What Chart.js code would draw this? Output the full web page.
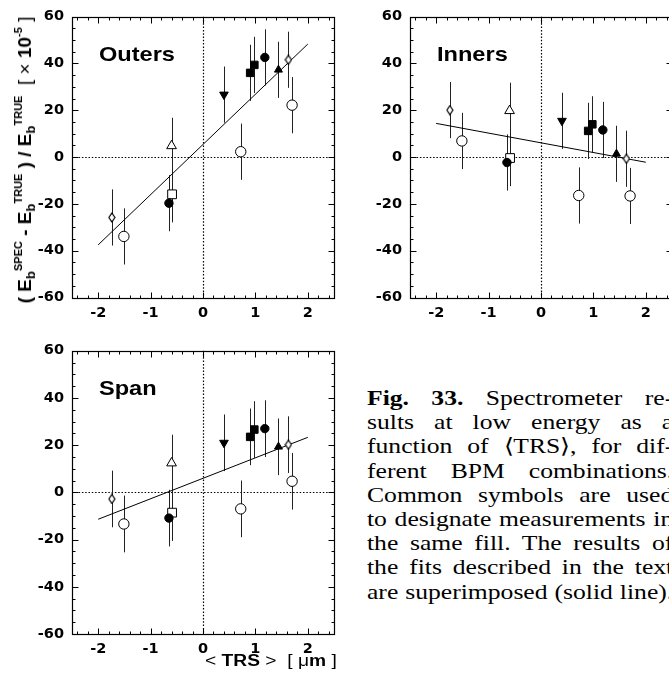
<!DOCTYPE html>
<html>
<head>
<meta charset="utf-8">
<script src="https://cdn.jsdelivr.net/npm/chart.js@4.4.0/dist/chart.umd.min.js"></script>
<style>
  html, body { margin: 0; padding: 0; background: #fff; overflow: hidden; width: 669px; height: 681px; }
  canvas { position: absolute; }
  #ytitle {
    position: absolute; left: 25px; top: 160px; white-space: nowrap;
    transform: translate(-50%, -50%) rotate(-90deg);
    font-family: "Liberation Sans", Arial, sans-serif; font-size: 19px; color: #000;
  }
  #ytitle b { font-weight: bold; }
  #ytitle sub, #ytitle sup { font-size: 11px; font-weight: bold; }
  #ytitle sub { font-size: 13px; vertical-align: -4px; }
  #ytitle sup { vertical-align: 9px; }
  #xtitle {
    position: absolute; right: 332px; top: 652px; white-space: nowrap;
    font-family: "Liberation Sans", Arial, sans-serif; font-size: 16px; color: #000;
    transform: scaleX(1.2); transform-origin: 100% 50%;
  }
  #caption {
    position: absolute; left: 367px; top: 386px; width: 251px;
    font-family: "Liberation Serif", "Times New Roman", serif; font-size: 21px; color: #000;
    transform: scaleX(1.22); transform-origin: 0 0;
  }
  #caption div { height: 24.2px; line-height: 24.2px; white-space: nowrap; text-align: justify; text-align-last: justify; }
</style>
</head>
<body>
<canvas id="outers" width="345" height="330" style="left:0;top:0"></canvas>
<canvas id="inners" width="345" height="330" style="left:337.5px;top:0"></canvas>
<canvas id="span" width="345" height="335" style="left:0;top:334px"></canvas>

<div id="ytitle"><b>( E<sub>b</sub><sup>SPEC</sup> - E<sub>b</sub><sup>TRUE</sup> ) / E<sub>b</sub><sup>TRUE</sup></b>&nbsp; [ &times; <b>10<sup>-5</sup></b> ]</div>
<div id="xtitle">&lt; <b>TRS</b> &gt;&nbsp; [ &mu;<b>m</b> ]</div>

<div id="caption">
  <div><b>Fig. 33.</b> Spectrometer re-</div>
  <div>sults at low energy as a</div>
  <div>function of ⟨TRS⟩, for dif-</div>
  <div>ferent BPM combinations.</div>
  <div>Common symbols are used</div>
  <div>to designate measurements in</div>
  <div>the same fill. The results of</div>
  <div>the fits described in the text</div>
  <div>are superimposed (solid line).</div>
</div>

<script>
// <TRS> of each measurement (same for every BPM combination)
const trs = [-1.74, -1.51, -0.60, -0.59, -0.65, 0.40, 0.72, 0.90, 0.98, 1.18, 1.44, 1.63, 1.70];
// symbol of each measurement, and whether it is filled
const symbols = ['diamond', 'circle', 'triangle', 'rect', 'circle', 'invtriangle', 'circle', 'rect', 'rect', 'circle', 'triangle', 'diamond', 'circle'];
const filled = [false, false, false, false, true, true, false, true, true, true, true, false, false];

// (E_spec - E_true)/E_true  [x 1e-5]
const outersVal = [-25.8, -33.9, 4.8, -15.9, -19.7, 26.7, 2.3, 36.0, 39.4, 42.6, 37.3, 41.6, 22.2];
const innersVal = [20.1, 6.9, 19.8, -0.4, -2.3, 15.5, -16.4, 11.2, 14.0, 11.6, 1.4, -0.7, -16.6];
const spanVal = [-2.8, -13.4, 12.4, -8.6, -10.9, 21.0, -7.0, 23.5, 26.6, 27.0, 19.3, 20.2, 4.7];
const outersErr = [12, 12, 12, 12, 12, 12, 12, 12, 12, 12, 12, 12, 12];
const innersErr = [12, 12, 12, 12, 12, 12, 12, 12, 12, 12, 12, 12, 12];
const spanErr = [12, 12, 12, 12, 12, 12, 12, 12, 12, 12, 12, 12, 12];

// fitted lines, value at the ends
const fitX = [-2, 2];
const outersFit = [-37.5, 48.3];
const innersFit = [14.4, -2.2];
const spanFit = [-11.4, 23.3];

const xTicks = [-2, -1, 0, 1, 2];
const yTicks = [-60, -40, -20, 0, 20, 40, 60];

// narrow open diamond marker
const diamond = document.createElement('canvas');
diamond.width = 8; diamond.height = 11;
(function () {
    const c = diamond.getContext('2d');
    c.beginPath();
    c.moveTo(4, 1); c.lineTo(7, 5.5); c.lineTo(4, 10); c.lineTo(1, 5.5); c.closePath();
    c.fillStyle = '#fff'; c.fill();
    c.strokeStyle = '#000'; c.lineWidth = 1.2; c.stroke();
})();

function markerStyle(i) {
    const s = symbols[i];
    if (s === 'diamond') return diamond;
    if (s === 'invtriangle') return 'triangle';
    return s;
}
function markerRadius(i) {
    const s = symbols[i], f = filled[i];
    if (s === 'circle') return f ? 4.2 : 5.2;
    if (s === 'rect') return f ? 5.3 : 6.2;
    if (s === 'triangle') return f ? 4.6 : 5.6;
    if (s === 'invtriangle') return 5;
    return 5;
}

const framePlugin = {
    id: 'frame',
    beforeDatasetsDraw(chart) {
        const { ctx, chartArea: a, scales: { x, y } } = chart;
        const opts = chart.options.plugins.frame;
        ctx.save();
        // dotted zero lines
        ctx.strokeStyle = '#000';
        ctx.lineWidth = 1.2;
        ctx.setLineDash([1.5, 1.8]);
        const x0 = Math.round(x.getPixelForValue(0)) + 0.5;
        const y0 = Math.round(y.getPixelForValue(0)) + 0.5;
        ctx.beginPath();
        ctx.moveTo(x0, a.top); ctx.lineTo(x0, a.bottom);
        ctx.moveTo(a.left, y0); ctx.lineTo(a.right, y0);
        ctx.stroke();
        ctx.setLineDash([]);
        // error bars
        ctx.strokeStyle = '#222';
        ctx.lineWidth = 1;
        chart.data.datasets[0].data.forEach((p, i) => {
            const px = Math.round(x.getPixelForValue(p.x)) + 0.5;
            ctx.beginPath();
            ctx.moveTo(px, y.getPixelForValue(p.y + opts.err[i]));
            ctx.lineTo(px, y.getPixelForValue(p.y - opts.err[i]));
            ctx.stroke();
        });
        ctx.restore();
    },
    afterDraw(chart) {
        const { ctx, chartArea: a, scales: { x, y } } = chart;
        const opts = chart.options.plugins.frame;
        const L = Math.round(a.left) + 0.5, R = Math.round(a.right) + 0.5;
        const T = Math.round(a.top) + 0.5, B = Math.round(a.bottom) + 0.5;
        ctx.save();
        ctx.strokeStyle = '#000';
        ctx.lineWidth = 1.2;
        ctx.strokeRect(L, T, R - L, B - T);
        ctx.lineWidth = 1;
        ctx.beginPath();
        for (let i = -12; i <= 12; i++) {
            const px = Math.round(x.getPixelForValue(i / 5)) + 0.5;
            const len = i % 5 === 0 ? 6 : 3;
            ctx.moveTo(px, B); ctx.lineTo(px, B - len);
            ctx.moveTo(px, T); ctx.lineTo(px, T + len);
        }
        for (let i = -11; i <= 11; i++) {
            const py = Math.round(y.getPixelForValue(i * 5)) + 0.5;
            const len = (i * 5) % 20 === 0 ? 6 : 3;
            ctx.moveTo(L, py); ctx.lineTo(L + len, py);
            ctx.moveTo(R, py); ctx.lineTo(R - len, py);
        }
        ctx.stroke();
        // panel name, slightly widened like the original print
        ctx.fillStyle = '#000';
        ctx.font = 'bold 20.5px "Liberation Sans"';
        ctx.textBaseline = 'alphabetic';
        ctx.translate(a.left + 27, a.top + 44);
        ctx.scale(1.15, 1);
        ctx.fillText(opts.label, 0, 0);
        ctx.restore();
    }
};

function makePanel(id, label, vals, errs, fit, bottomPad) {
    const points = trs.map((t, i) => ({ x: t, y: vals[i] }));
    new Chart(document.getElementById(id), {
        type: 'scatter',
        data: {
            datasets: [{
                data: points,
                pointStyle: trs.map((t, i) => markerStyle(i)),
                pointRadius: trs.map((t, i) => markerRadius(i)),
                pointRotation: trs.map((t, i) => symbols[i] === 'invtriangle' ? 180 : 0),
                pointBackgroundColor: trs.map((t, i) => filled[i] ? '#000' : '#fff'),
                pointBorderColor: '#000',
                pointBorderWidth: 1,
                pointHoverRadius: trs.map((t, i) => markerRadius(i))
            }, {
                data: fitX.map((fx, i) => ({ x: fx, y: fit[i] })),
                showLine: true,
                borderColor: '#000',
                borderWidth: 1,
                pointRadius: 0
            }]
        },
        options: {
            responsive: false,
            animation: false,
            layout: { padding: { left: 32, right: 11, top: 14, bottom: bottomPad } },
            plugins: {
                legend: { display: false },
                tooltip: { enabled: false },
                frame: { label: label, err: errs }
            },
            scales: {
                x: {
                    type: 'linear', min: -2.5, max: 2.5,
                    afterBuildTicks: s => { s.ticks = xTicks.map(v => ({ value: v })); },
                    afterFit: s => { s.height = 30; },
                    grid: { display: false, drawTicks: false },
                    border: { display: false },
                    ticks: { color: '#000', padding: 7, maxRotation: 0, font: { family: 'DejaVu Sans', size: 14.5, weight: 'bold' }, callback: v => String(v) }
                },
                y: {
                    type: 'linear', min: -60, max: 60,
                    afterBuildTicks: s => { s.ticks = yTicks.map(v => ({ value: v })); },
                    afterFit: s => { s.width = 40; },
                    grid: { display: false, drawTicks: false },
                    border: { display: false },
                    ticks: { color: '#000', padding: 8, font: { family: 'DejaVu Sans', size: 14.5, weight: 'bold' }, callback: v => String(v) }
                }
            }
        },
        plugins: [framePlugin]
    });
}

makePanel('outers', 'Outers', outersVal, outersErr, outersFit, 2.5);
makePanel('inners', 'Inners', innersVal, innersErr, innersFit, 2.5);
makePanel('span', 'Span', spanVal, spanErr, spanFit, 5);
</script>
</body>
</html>
